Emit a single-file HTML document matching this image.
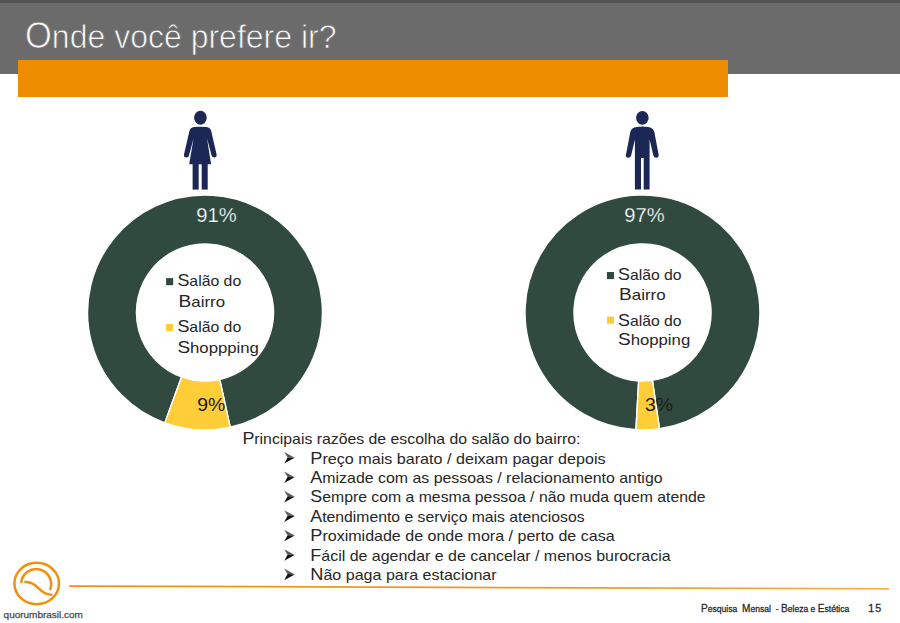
<!DOCTYPE html>
<html><head><meta charset="utf-8"><title>Onde você prefere ir?</title>
<style>
html,body{margin:0;padding:0;background:#fff;}
body{width:900px;height:623px;overflow:hidden;}
svg{display:block;}
text{font-family:"Liberation Sans",Arial,sans-serif;white-space:pre;}
</style></head><body>
<svg width="900" height="623" viewBox="0 0 900 623">
<rect x="0" y="0" width="900" height="3" fill="#525252"/>
<rect x="0" y="3" width="900" height="71" fill="#6b6b6b"/>
<text x="25" y="47.7" font-size="33.4" fill="#fafafa" textLength="311.5" lengthAdjust="spacingAndGlyphs" stroke="#6b6b6b" stroke-width="0.75"><tspan font-size="36">O</tspan>nde você prefere ir?</text>
<rect x="18" y="60" width="710" height="37" fill="#ef8d00"/>
<ellipse cx="200.4" cy="117.75" rx="6.3" ry="7.05" fill="#1b2856"/>
<path fill="#1b2856" d="M194 126.9Q200.3 126.4 206.6 126.9Q210.3 127.3 211.2 131L216.6 154.5Q217 157.5 214.2 157.5Q212 157.5 211.6 155.5L207 138.2L211.1 164.3L189.2 164.3L193.6 138.2L189 155.5Q188.6 157.5 186.4 157.5Q183.6 157.5 184 154.5L189.4 131Q190.3 127.3 194 126.9Z"/>
<rect x="192.6" y="164" width="6.1" height="25.6" fill="#1b2856"/>
<rect x="201.7" y="164" width="6.0" height="25.6" fill="#1b2856"/>
<ellipse cx="642.35" cy="117.85" rx="6.3" ry="6.95" fill="#1b2856"/>
<path fill="#1b2856" d="M636.8 126.9Q642.3 126.3 647.9 126.9Q653.2 127.3 654.3 132L658.6 154.5Q659 157.8 656.3 157.8Q653.8 157.8 653.3 155.3L649.6 139.5L649.6 189.5L643.7 189.5L643.7 158L641 158L641 189.5L634.9 189.5L634.9 139.5L631.2 155.3Q630.7 157.8 628.2 157.8Q625.5 157.8 626 154.5L630.3 132Q631.4 127.3 636.8 126.9Z"/>
<path d="M164.83 422.87A117.45 117.45 0 1 1 230.22 427.21L219.72 379.45A68.55 68.55 0 1 0 181.55 376.92Z" fill="#314a40" stroke="#fff" stroke-width="1.4"/>
<path d="M230.22 427.21A117.45 117.45 0 0 1 164.83 422.87L181.55 376.92A68.55 68.55 0 0 0 219.72 379.45Z" fill="#fecd38" stroke="#fff" stroke-width="1.4"/>
<path d="M635.94 429.77A117.45 117.45 0 1 1 659.45 428.72L652.40 380.33A68.55 68.55 0 1 0 638.67 380.94Z" fill="#314a40" stroke="#fff" stroke-width="1.4"/>
<path d="M659.45 428.72A117.45 117.45 0 0 1 635.94 429.77L638.67 380.94A68.55 68.55 0 0 0 652.40 380.33Z" fill="#fecd38" stroke="#fff" stroke-width="1.4"/>
<text x="196.3" y="221.7" font-size="19.3" fill="#ffffff" textLength="40.4" lengthAdjust="spacingAndGlyphs" stroke="#314a40" stroke-width="0.25">91%</text>
<text x="624.3" y="221.7" font-size="19.3" fill="#ffffff" textLength="40.4" lengthAdjust="spacingAndGlyphs" stroke="#314a40" stroke-width="0.25">97%</text>
<text x="197.3" y="411.3" font-size="19" fill="#1a1a1a" textLength="28" lengthAdjust="spacingAndGlyphs">9%</text>
<text x="645" y="411.2" font-size="19" fill="#1a1a1a" textLength="28" lengthAdjust="spacingAndGlyphs">3%</text>
<rect x="166.1" y="278.1" width="7.1" height="7.1" fill="#314a40"/>
<text x="177.4" y="286.4" font-size="15" fill="#262626" textLength="63.8" lengthAdjust="spacingAndGlyphs"><tspan font-size="17">S</tspan>alão do</text>
<text x="178.6" y="306.7" font-size="15" fill="#262626" textLength="46.5" lengthAdjust="spacingAndGlyphs"><tspan font-size="17">B</tspan>airro</text>
<rect x="166.1" y="324" width="7.1" height="7.1" fill="#fecd38"/>
<text x="177.4" y="331.6" font-size="15" fill="#262626" textLength="63.8" lengthAdjust="spacingAndGlyphs"><tspan font-size="17">S</tspan>alão do</text>
<text x="177.4" y="353" font-size="15" fill="#262626" textLength="81.5" lengthAdjust="spacingAndGlyphs"><tspan font-size="17">S</tspan>hoppping</text>
<rect x="606.9" y="272" width="7.1" height="7.1" fill="#314a40"/>
<text x="618" y="279.8" font-size="15" fill="#262626" textLength="63.6" lengthAdjust="spacingAndGlyphs"><tspan font-size="17">S</tspan>alão do</text>
<text x="619" y="300.4" font-size="15" fill="#262626" textLength="46.6" lengthAdjust="spacingAndGlyphs"><tspan font-size="17">B</tspan>airro</text>
<rect x="606.9" y="316.6" width="7.1" height="7.1" fill="#fecd38"/>
<text x="618" y="325.5" font-size="15" fill="#262626" textLength="63.6" lengthAdjust="spacingAndGlyphs"><tspan font-size="17">S</tspan>alão do</text>
<text x="618" y="345.4" font-size="15" fill="#262626" textLength="72.2" lengthAdjust="spacingAndGlyphs"><tspan font-size="17">S</tspan>hopping</text>
<text x="242.4" y="444.3" font-size="15" fill="#262626" textLength="338" lengthAdjust="spacingAndGlyphs"><tspan font-size="17">P</tspan>rincipais razões de escolha do salão do bairro:</text>
<text x="310.3" y="463.6" font-size="15" fill="#262626" textLength="295.3" lengthAdjust="spacingAndGlyphs"><tspan font-size="17">P</tspan>reço mais barato / deixam pagar depois</text>
<path d="M284.2 452.00L294.7 457.80L287.6 457.50Z" fill="#5a5a5a"/>
<path d="M287.6 457.50L294.7 457.80L284.2 463.60Z" fill="#111"/>
<text x="310.3" y="483.03" font-size="15" fill="#262626" textLength="352.3" lengthAdjust="spacingAndGlyphs"><tspan font-size="17">A</tspan>mizade com as pessoas / relacionamento antigo</text>
<path d="M284.2 471.43L294.7 477.23L287.6 476.93Z" fill="#5a5a5a"/>
<path d="M287.6 476.93L294.7 477.23L284.2 483.03Z" fill="#111"/>
<text x="310.3" y="502.46" font-size="15" fill="#262626" textLength="395.3" lengthAdjust="spacingAndGlyphs"><tspan font-size="17">S</tspan>empre com a mesma pessoa / não muda quem atende</text>
<path d="M284.2 490.86L294.7 496.66L287.6 496.36Z" fill="#5a5a5a"/>
<path d="M287.6 496.36L294.7 496.66L284.2 502.46Z" fill="#111"/>
<text x="310.3" y="521.89" font-size="15" fill="#262626" textLength="274.3" lengthAdjust="spacingAndGlyphs"><tspan font-size="17">A</tspan>tendimento e serviço mais atenciosos</text>
<path d="M284.2 510.29L294.7 516.09L287.6 515.79Z" fill="#5a5a5a"/>
<path d="M287.6 515.79L294.7 516.09L284.2 521.89Z" fill="#111"/>
<text x="310.3" y="541.32" font-size="15" fill="#262626" textLength="304.3" lengthAdjust="spacingAndGlyphs"><tspan font-size="17">P</tspan>roximidade de onde mora / perto de casa</text>
<path d="M284.2 529.72L294.7 535.52L287.6 535.22Z" fill="#5a5a5a"/>
<path d="M287.6 535.22L294.7 535.52L284.2 541.32Z" fill="#111"/>
<text x="310.3" y="560.75" font-size="15" fill="#262626" textLength="360.3" lengthAdjust="spacingAndGlyphs"><tspan font-size="17">F</tspan>ácil de agendar e de cancelar / menos burocracia</text>
<path d="M284.2 549.15L294.7 554.95L287.6 554.65Z" fill="#5a5a5a"/>
<path d="M287.6 554.65L294.7 554.95L284.2 560.75Z" fill="#111"/>
<text x="310.3" y="580.18" font-size="15" fill="#262626" textLength="186.3" lengthAdjust="spacingAndGlyphs"><tspan font-size="17">N</tspan>ão paga para estacionar</text>
<path d="M284.2 568.58L294.7 574.38L287.6 574.08Z" fill="#5a5a5a"/>
<path d="M287.6 574.08L294.7 574.38L284.2 580.18Z" fill="#111"/>
<defs><linearGradient id="lg" x1="0" x2="1" y1="0" y2="0"><stop offset="0" stop-color="#f0901a"/><stop offset="0.65" stop-color="#f29b24"/><stop offset="1" stop-color="#f5b352"/></linearGradient></defs>
<path d="M69.1 586.1L889 588.8" stroke="url(#lg)" stroke-width="1.8" fill="none"/>
<ellipse cx="36.7" cy="583.5" rx="22.3" ry="20.7" fill="none" stroke="#f0900c" stroke-width="2.5"/>
<path d="M21.16 582.79A15.0 15.0 0 1 1 49.91 589.96" fill="none" stroke="#f0900c" stroke-width="2.5"/>
<path d="M24.3 582C28 581.6 31.5 582.5 34.5 584.7C38.5 587.7 41 591.5 45 593.2C47.5 594.3 50 594.8 52.3 594.8" fill="none" stroke="#f0900c" stroke-width="2.5"/>
<text x="3.6" y="617.8" font-size="9.5" fill="#474747" textLength="79.2" lengthAdjust="spacingAndGlyphs" stroke="#474747" stroke-width="0.25">quorumbrasil.com</text>
<text x="701" y="611.6" font-size="9.2" fill="#2a2a2a" textLength="148.3" lengthAdjust="spacingAndGlyphs" stroke="#2a2a2a" stroke-width="0.3"><tspan font-size="10.8">P</tspan>esquisa  <tspan font-size="10.8">M</tspan>ensal  - <tspan font-size="10.8">B</tspan>eleza e <tspan font-size="10.8">E</tspan>stética</text>
<text x="868.3" y="611.6" font-size="10.6" fill="#2a2a2a" textLength="12.8" lengthAdjust="spacing" stroke="#2a2a2a" stroke-width="0.3">15</text>
</svg>
</body></html>
